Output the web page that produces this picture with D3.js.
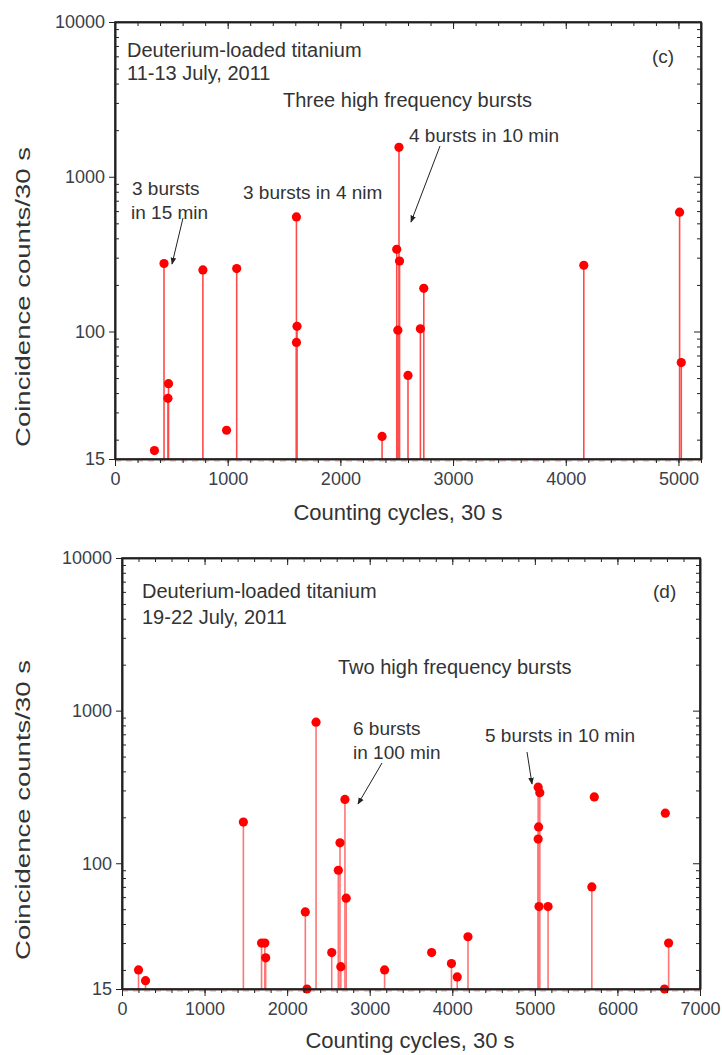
<!DOCTYPE html>
<html>
<head>
<meta charset="utf-8">
<script src="https://cdn.jsdelivr.net/npm/d3@7"></script>
<style>
  body { margin: 0; background: #fff; }
  svg text { font-family: "Liberation Sans", Arial, sans-serif; fill: #333; }
  .axis path, .axis line { stroke: #222; }
  .axis text { font-size: 18px; fill: #3a3f4a; }
</style>
</head>
<body>
<svg id="chart" width="722" height="1055"></svg>
<script>
// panel (c): 11-13 July 2011
const cCycles = [350, 435, 470, 475, 780, 990, 1080, 1610, 1615, 1610, 2370, 2500, 2510, 2520, 2525, 2600, 2710, 2740, 4160, 5010, 5025];
const cCounts = [17, 275, 37, 46, 250, 23, 255, 550, 108, 85, 21, 340, 102, 1550, 285, 52, 104, 190, 268, 590, 63];
const cStems  = [0, 1, 1, 1, 1, 0, 1, 1, 1, 1, 1, 1, 1, 1, 1, 1, 1, 1, 1, 1, 1];

// panel (d): 19-22 July 2011
const dCycles = [200, 285, 1470, 1690, 1730, 1740, 2220, 2240, 2350, 2540, 2620, 2640, 2650, 2700, 2715, 3180, 3750, 3990, 4060, 4190, 5040, 5060, 5045, 5040, 5050, 5160, 5690, 5720, 6570, 6580, 6620];
const dCounts = [20, 17, 186, 30, 30, 24, 48, 15, 840, 26, 90, 136, 21, 262, 59, 20, 26, 22, 18, 33, 315, 290, 173, 144, 52, 52, 70, 272, 15, 213, 30];
const dStems  = [1, 1, 1, 1, 1, 1, 1, 0, 1, 1, 1, 1, 1, 1, 1, 1, 0, 1, 1, 1, 1, 1, 1, 1, 1, 1, 1, 0, 0, 0, 1];

const yMajor = [15, 100, 1000, 10000];
const yMinor = [20, 30, 40, 50, 60, 70, 80, 90, 200, 300, 400, 500, 600, 700, 800, 900,
                2000, 3000, 4000, 5000, 6000, 7000, 8000, 9000];
const yTitle = 'Coincidence counts/30 s';
const xTitle = 'Counting cycles, 30 s';

const svg = d3.select('#chart');

svg.append('defs').append('marker')
    .attr('id', 'arrow')
    .attr('viewBox', '0 0 10 10')
    .attr('refX', 9).attr('refY', 5)
    .attr('markerWidth', 7).attr('markerHeight', 7)
    .attr('orient', 'auto')
    .append('path')
    .attr('d', 'M0,1 L10,5 L0,9 Z')
    .attr('fill', '#222');

function drawPanel(p) {
    const x = d3.scaleLinear().domain([0, p.xMax]).range([p.left, p.right]);
    const y = d3.scaleLog().domain([15, 10000]).range([p.bottom, p.top]);
    const g = svg.append('g');

    const points = p.cycles.map((c, i) => ({c, v: p.counts[i], stem: p.stems[i]}));

    // faint baseline
    g.append('line')
        .attr('x1', p.left).attr('x2', p.right)
        .attr('y1', p.bottom + 2).attr('y2', p.bottom + 2)
        .attr('stroke', '#ff9a9a').attr('stroke-width', 1)
        .attr('stroke-dasharray', '6,5');

    g.selectAll('.stem').data(points.filter(d => d.stem))
        .enter().append('line')
        .attr('class', 'stem')
        .attr('x1', d => x(d.c)).attr('x2', d => x(d.c))
        .attr('y1', y(15)).attr('y2', d => y(d.v))
        .attr('stroke', p.stemColor).attr('stroke-width', 1.6);

    g.selectAll('.pt').data(points)
        .enter().append('circle')
        .attr('class', 'pt')
        .attr('cx', d => x(d.c)).attr('cy', d => y(d.v))
        .attr('r', 4.6)
        .attr('fill', '#ff0000');

    // axes
    const xMajorTicks = d3.range(0, p.xMax + 1, 1000).filter(v => v <= p.xMax);
    const xMinorTicks = d3.range(0, p.xMax + 1, 200);

    g.append('g').attr('class', 'axis')
        .attr('transform', `translate(0,${p.bottom})`)
        .call(d3.axisBottom(x).tickValues(xMinorTicks).tickFormat('').tickSize(4).tickSizeOuter(0));
    g.append('g').attr('class', 'axis')
        .attr('transform', `translate(0,${p.bottom})`)
        .call(d3.axisBottom(x).tickValues(xMajorTicks).tickFormat(d3.format('d')).tickSize(7).tickSizeOuter(0).tickPadding(6));
    g.append('g').attr('class', 'axis')
        .attr('transform', `translate(0,${p.top})`)
        .call(d3.axisTop(x).tickValues(xMinorTicks).tickFormat('').tickSize(-4).tickSizeOuter(0));
    g.append('g').attr('class', 'axis')
        .attr('transform', `translate(0,${p.top})`)
        .call(d3.axisTop(x).tickValues(xMajorTicks).tickFormat('').tickSize(-7).tickSizeOuter(0));

    g.append('g').attr('class', 'axis')
        .attr('transform', `translate(${p.left},0)`)
        .call(d3.axisLeft(y).tickValues(yMinor).tickFormat('').tickSize(-4).tickSizeOuter(0));
    g.append('g').attr('class', 'axis')
        .attr('transform', `translate(${p.left},0)`)
        .call(d3.axisLeft(y).tickValues(yMajor).tickFormat(d3.format('d')).tickSize(6).tickSizeOuter(0).tickPadding(4));
    g.append('g').attr('class', 'axis')
        .attr('transform', `translate(${p.right},0)`)
        .call(d3.axisRight(y).tickValues(yMinor).tickFormat('').tickSize(-4).tickSizeOuter(0));
    g.append('g').attr('class', 'axis')
        .attr('transform', `translate(${p.right},0)`)
        .call(d3.axisRight(y).tickValues(yMajor).tickFormat('').tickSize(-7).tickSizeOuter(0));

    g.selectAll('.axis path').attr('stroke-width', 1.6);

    // frame
    g.append('rect')
        .attr('x', p.left).attr('y', p.top)
        .attr('width', p.right - p.left).attr('height', p.bottom - p.top)
        .attr('fill', 'none').attr('stroke', '#222').attr('stroke-width', 1.6);

    // titles
    g.append('text')
        .attr('transform', `translate(${p.yTitleX},${p.yTitleY}) rotate(-90)`)
        .attr('text-anchor', 'middle')
        .attr('font-size', 21)
        .attr('textLength', 300).attr('lengthAdjust', 'spacingAndGlyphs')
        .text(yTitle);
    g.append('text')
        .attr('x', p.xTitleX).attr('y', p.xTitleY)
        .attr('text-anchor', 'middle')
        .attr('font-size', 22)
        .text(xTitle);

    // annotations
    p.notes.forEach(n => {
        g.append('text')
            .attr('x', n.x).attr('y', n.y)
            .attr('font-size', n.size || 19)
            .text(n.t);
    });
    p.arrows.forEach(a => {
        g.append('line')
            .attr('x1', a[0]).attr('y1', a[1]).attr('x2', a[2]).attr('y2', a[3])
            .attr('stroke', '#222').attr('stroke-width', 1)
            .attr('marker-end', 'url(#arrow)');
    });
}

drawPanel({
    cycles: cCycles, counts: cCounts, stems: cStems, stemColor: '#ff4a4a',
    xMax: 5200, left: 115, right: 701, top: 22, bottom: 459,
    yTitleX: 30, yTitleY: 297, xTitleX: 398, xTitleY: 520,
    notes: [
        {t: 'Deuterium-loaded titanium', x: 127, y: 57, size: 20},
        {t: '11-13 July, 2011', x: 127, y: 80, size: 20},
        {t: '(c)', x: 652, y: 63, size: 19},
        {t: 'Three high frequency bursts', x: 283, y: 107, size: 20},
        {t: '4 bursts in 10 min', x: 409, y: 142},
        {t: '3 bursts', x: 132, y: 195},
        {t: 'in 15 min', x: 131, y: 219},
        {t: '3 bursts in 4 nim', x: 243, y: 199}
    ],
    arrows: [[183, 218, 172, 264], [440, 146, 411, 222]]
});

drawPanel({
    cycles: dCycles, counts: dCounts, stems: dStems, stemColor: '#ff7474',
    xMax: 7000, left: 122, right: 700, top: 558, bottom: 989,
    yTitleX: 30, yTitleY: 810, xTitleX: 410, xTitleY: 1048,
    notes: [
        {t: 'Deuterium-loaded titanium', x: 142, y: 598, size: 20},
        {t: '19-22 July, 2011', x: 142, y: 624, size: 20},
        {t: '(d)', x: 653, y: 598, size: 19},
        {t: 'Two high frequency bursts', x: 338, y: 674, size: 20},
        {t: '6 bursts', x: 353, y: 735},
        {t: 'in 100 min', x: 353, y: 759},
        {t: '5 bursts in 10 min', x: 485, y: 742}
    ],
    arrows: [[382, 763, 358, 804], [527, 752, 532, 784]]
});
</script>
</body>
</html>
